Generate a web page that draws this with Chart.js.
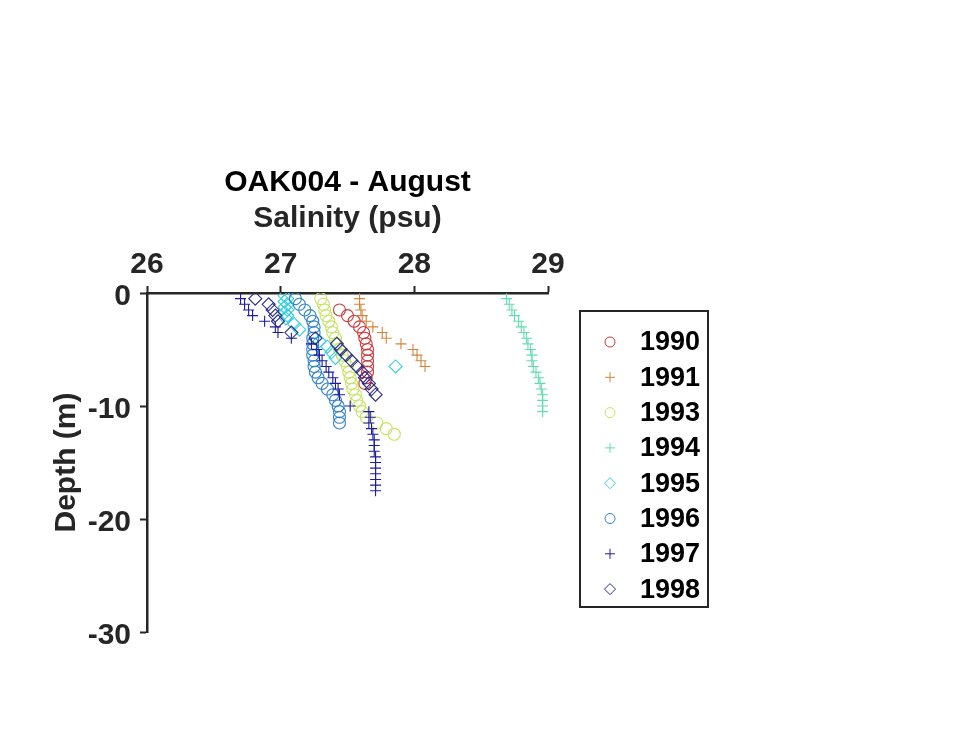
<!DOCTYPE html>
<html>
<head>
<meta charset="utf-8">
<script src="https://cdn.jsdelivr.net/npm/chart.js@4/dist/chart.umd.min.js"></script>
<style>
  html, body { margin: 0; padding: 0; background: #fff; }
  #wrap { width: 966px; height: 741px; }
</style>
</head>
<body>
<div id="wrap"><canvas id="c" width="966" height="741"></canvas></div>
<script>
// Salinity profiles at station OAK004, August casts (depth in m, salinity in psu)
const years = ['1990', '1991', '1993', '1994', '1995', '1996', '1997', '1998'];

const depth1990 = [-1.5, -2, -2.5, -3, -3.5, -4, -4.5, -5, -5.5, -6, -6.5, -7, -7.5, -8];
const sal1990   = [27.44, 27.50, 27.55, 27.59, 27.62, 27.63, 27.64, 27.65, 27.65, 27.65, 27.65, 27.65, 27.64, 27.63];

const depth1991 = [-0.5, -1, -1.5, -2, -2.5, -3, -3.5, -4, -4.5, -5, -5.5, -6, -6.5];
const sal1991   = [27.59, 27.59, 27.60, 27.61, 27.64, 27.69, 27.76, 27.79, 27.90, 27.99, 28.02, 28.05, 28.08];

const depth1993 = [-0.5, -1, -1.5, -2, -2.5, -3, -3.5, -4, -4.5, -5, -5.5, -6, -6.5, -7, -7.5, -8, -8.5, -9, -9.5, -10, -10.5, -11, -11.5, -12, -12.5];
const sal1993   = [27.30, 27.32, 27.33, 27.34, 27.36, 27.38, 27.39, 27.41, 27.42, 27.44, 27.46, 27.48, 27.50, 27.51, 27.52, 27.53, 27.54, 27.56, 27.57, 27.59, 27.61, 27.64, 27.72, 27.79, 27.85];

const depth1994 = [-0.5, -1, -1.5, -2, -2.5, -3, -3.5, -4, -4.5, -5, -5.5, -6, -6.5, -7, -7.5, -8, -8.5, -9, -9.5, -10, -10.5];
const sal1994   = [28.69, 28.71, 28.73, 28.75, 28.78, 28.80, 28.82, 28.84, 28.85, 28.87, 28.88, 28.88, 28.89, 28.91, 28.93, 28.94, 28.95, 28.96, 28.96, 28.96, 28.96];

const depth1995 = [-0.25, -0.5, -0.75, -1, -1.25, -1.5, -1.75, -2, -2.25, -2.75, -3.25, -4.25, -4.75, -5.25, -5.75, -6.5];
const sal1995   = [27.03, 27.05, 27.03, 27.05, 27.03, 27.05, 27.03, 27.05, 27.04, 27.10, 27.14, 27.29, 27.35, 27.38, 27.41, 27.86];

const depth1996 = [-0.5, -1, -1.5, -2, -2.5, -3, -3.5, -4, -4.5, -5, -5.5, -6, -6.5, -7, -7.5, -8, -8.5, -9, -9.5, -10, -10.5, -11, -11.5];
const sal1996   = [27.11, 27.14, 27.18, 27.22, 27.24, 27.25, 27.25, 27.24, 27.24, 27.24, 27.24, 27.25, 27.25, 27.26, 27.28, 27.31, 27.35, 27.39, 27.41, 27.43, 27.44, 27.44, 27.44];

const depth1997 = [-0.5, -1, -1.5, -2, -2.5, -3, -3.5, -4, -4.5, -5, -5.5, -6, -6.5, -7, -7.5, -8, -8.5, -9, -10, -10.5, -11, -11.5, -12, -12.5, -13, -13.5, -14, -14.5, -15, -15.5, -16, -16.5, -17, -17.5];
const sal1997   = [26.70, 26.73, 26.76, 26.79, 26.88, 26.96, 26.98, 27.08, 27.23, 27.27, 27.29, 27.31, 27.34, 27.36, 27.39, 27.41, 27.43, 27.44, 27.52, 27.66, 27.67, 27.66, 27.68, 27.69, 27.70, 27.70, 27.70, 27.71, 27.71, 27.71, 27.71, 27.71, 27.71, 27.71];

const depth1998 = [-0.5, -1, -1.5, -2, -2.5, -3.5, -4, -4.5, -5, -5.5, -6, -6.5, -7, -7.5, -8, -8.5, -9];
const sal1998   = [26.81, 26.91, 26.94, 26.96, 26.98, 27.08, 27.26, 27.42, 27.45, 27.49, 27.53, 27.57, 27.61, 27.63, 27.66, 27.68, 27.71];

const xTicks = [26, 27, 28, 29];
const yTicks = [0, -10, -20, -30];

// Styling per cast
const depths   = [depth1990, depth1991, depth1993, depth1994, depth1995, depth1996, depth1997, depth1998];
const salts    = [sal1990, sal1991, sal1993, sal1994, sal1995, sal1996, sal1997, sal1998];
const colors   = ['#cc3a3a', '#d4863a', '#c8e466', '#62dcae', '#38cfe0', '#3282cc', '#1c1ca0', '#2c2c82'];
const markers  = ['circle', 'cross', 'circle', 'cross', 'rectRot', 'circle', 'cross', 'rectRot'];
const radii    = { circle: 6, cross: 5.5, rectRot: 6.5 };

const FONT = "'Liberation Sans', Arial, Helvetica, sans-serif";
const AXIS = '#262626';

const datasets = years.map((y, i) => ({
  label: y,
  data: salts[i].map((s, k) => ({ x: s, y: depths[i][k] })),
  showLine: false,
  pointStyle: markers[i],
  pointRadius: radii[markers[i]],
  pointBorderWidth: 1.1,
  pointBorderColor: colors[i],
  pointBackgroundColor: 'rgba(0,0,0,0)',
  borderColor: colors[i],
  backgroundColor: 'rgba(0,0,0,0)',
  order: -i
}));

// Boxed legend to the right of the axes
const boxLegend = {
  id: 'boxLegend',
  afterDraw(chart) {
    const ctx = chart.ctx;
    const left = 580, top = 311, w = 128, h = 296;
    ctx.save();
    ctx.fillStyle = '#fff';
    ctx.fillRect(left, top, w, h);
    ctx.lineWidth = 2;
    ctx.strokeStyle = AXIS;
    ctx.strokeRect(left, top, w, h);
    chart.data.datasets.forEach((ds, i) => {
      const cy = 342 + i * 35.3;
      ctx.strokeStyle = ds.pointBorderColor;
      ctx.fillStyle = 'rgba(0,0,0,0)';
      ctx.lineWidth = 1;
      Chart.helpers.drawPoint(ctx, {
        pointStyle: ds.pointStyle,
        radius: ds.pointStyle === 'rectRot' ? 5.5 : 5,
        rotation: 0,
        borderWidth: 1
      }, 610, cy);
      ctx.fillStyle = '#000';
      ctx.font = 'bold 27px ' + FONT;
      ctx.textAlign = 'left';
      ctx.textBaseline = 'middle';
      ctx.fillText(ds.label, 640, cy + 1);
    });
    ctx.restore();
  }
};

new Chart(document.getElementById('c'), {
  type: 'scatter',
  data: { datasets },
  options: {
    responsive: false,
    devicePixelRatio: 1,
    animation: false,
    layout: { padding: { left: 0, top: 0, right: 418, bottom: 109 } },
    plugins: {
      legend: { display: false },
      tooltip: { enabled: false },
      title: {
        display: true,
        text: 'OAK004 - August',
        color: '#000',
        fullSize: false,
        font: { family: FONT, size: 30, weight: 'bold', lineHeight: 1 },
        padding: { top: 168, bottom: 0 }
      }
    },
    scales: {
      x: {
        type: 'linear',
        position: 'top',
        min: 26,
        max: 29,
        afterBuildTicks: s => { s.ticks = xTicks.map(v => ({ value: v })); },
        afterFit: s => { s.height = 95; },
        ticks: {
          color: AXIS,
          padding: 3,
          font: { family: FONT, size: 30, weight: 'bold' }
        },
        grid: { drawOnChartArea: false, drawTicks: true, tickLength: 7, tickWidth: 2, tickColor: AXIS },
        border: { display: true, color: AXIS, width: 2.5 },
        title: {
          display: true,
          text: 'Salinity (psu)',
          color: AXIS,
          font: { family: FONT, size: 30, weight: 'bold', lineHeight: 1 },
          padding: { top: 6, bottom: 0 }
        }
      },
      y: {
        type: 'linear',
        position: 'left',
        min: -30,
        max: 0,
        afterBuildTicks: s => { s.ticks = yTicks.map(v => ({ value: v })); },
        afterFit: s => { s.width = 147; },
        ticks: {
          color: AXIS,
          padding: 9,
          labelOffset: 4,
          font: { family: FONT, size: 30, weight: 'bold' }
        },
        grid: { drawOnChartArea: false, drawTicks: true, tickLength: 7, tickWidth: 2, tickColor: AXIS },
        border: { display: true, color: AXIS, width: 2.5 },
        title: {
          display: true,
          text: 'Depth (m)',
          color: AXIS,
          font: { family: FONT, size: 30, weight: 'bold', lineHeight: 1 },
          padding: { top: 52, bottom: 0 }
        }
      }
    }
  },
  plugins: [boxLegend]
});
</script>
</body>
</html>
